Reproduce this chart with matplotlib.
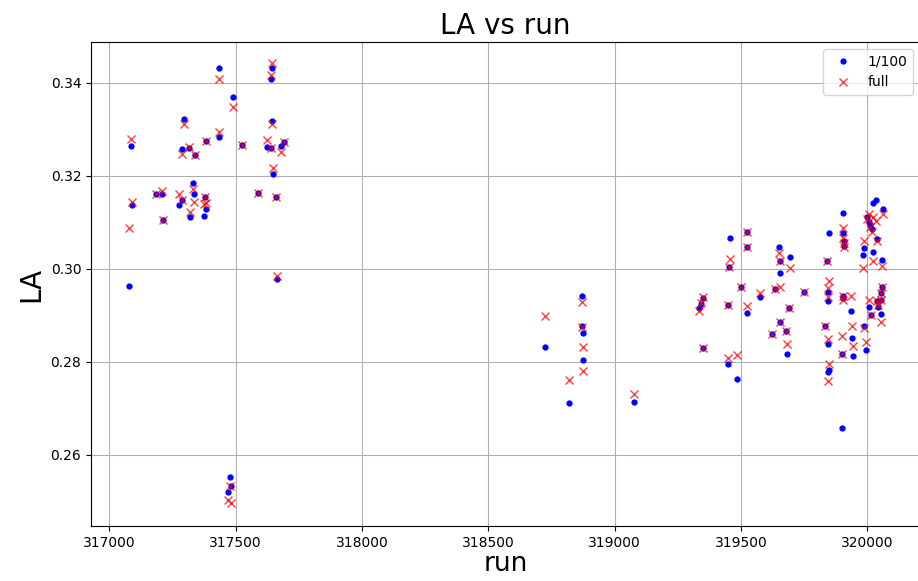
import numpy as np
import matplotlib
matplotlib.use("Agg")
import matplotlib.pyplot as plt

# run numbers, LA from the 1/100 sample and LA from the full sample
runs = [
    # 2017 block
    317076, 317085, 317090, 317183, 317208, 317212, 317274, 317288, 317286,
    317294, 317315, 317317, 317330, 317335, 317340, 317384, 317378, 317381,
    317376, 317435, 317432, 317490, 317476, 317482, 317470, 317523, 317589,
    317624, 317643, 317638, 317645, 317639, 317646, 317658, 317662, 317690,
    317678,
    # middle block
    318726, 318821, 318870, 318872, 318873, 318874, 319075,
    # 2018 block
    319335, 319343, 319348, 319349, 319447, 319448, 319454, 319458, 319483,
    319500, 319523, 319524, 319525, 319576, 319635, 319652, 319653, 319654,
    319655, 319622, 319678, 319681, 319691, 319694, 319749,
    319840, 319843, 319846, 319848, 319831, 319845, 319847, 319844,
    319905, 319906, 319907, 319908, 319903, 319904, 319902, 319937, 319940,
    319900, 319945,
    320024, 320033, 320063, 320006, 320000, 320010, 320020, 319987, 320037,
    320021, 320057, 319984, 320058, 320055, 320007, 320040, 320053, 320042,
    320056, 320016, 319988, 319997,
]

la_100 = [
    0.2963, 0.3264, 0.3137, 0.3161, 0.3161, 0.3105, 0.3137, 0.3148, 0.3257,
    0.3322, 0.3260, 0.3112, 0.3184, 0.3162, 0.3245, 0.3276, 0.3155, 0.3128,
    0.3114, 0.3432, 0.3284, 0.3370, 0.2552, 0.2533, 0.2520, 0.3266, 0.3163,
    0.3263, 0.3432, 0.3408, 0.3319, 0.3259, 0.3204, 0.3155, 0.2978, 0.3272,
    0.3264,
    0.2831, 0.2711, 0.2941, 0.2878, 0.2862, 0.2803, 0.2713,
    0.2915, 0.2925, 0.2937, 0.2829, 0.2922, 0.2796, 0.3005, 0.3067, 0.2763,
    0.2961, 0.3080, 0.3047, 0.2906, 0.2939, 0.2957, 0.3048, 0.3017, 0.2991,
    0.2886, 0.2860, 0.2867, 0.2818, 0.2915, 0.3025, 0.2951,
    0.3016, 0.2951, 0.2930, 0.3077, 0.2877, 0.2839, 0.2783, 0.2778,
    0.3121, 0.3077, 0.3060, 0.3050, 0.2941, 0.2937, 0.2657, 0.2910, 0.2852,
    0.2818, 0.2812,
    0.3142, 0.3148, 0.3129, 0.3101, 0.3112, 0.3095, 0.3085, 0.3045, 0.3064,
    0.3037, 0.3019, 0.3029, 0.2962, 0.2948, 0.2917, 0.2930, 0.2933, 0.2919,
    0.2904, 0.2900, 0.2878, 0.2826,
]

la_full = [
    0.3088, 0.3279, 0.3143, 0.3161, 0.3168, 0.3105, 0.3162, 0.3148, 0.3248,
    0.3312, 0.3263, 0.3123, 0.3171, 0.3144, 0.3245, 0.3276, 0.3155, 0.3141,
    0.3139, 0.3408, 0.3294, 0.3349, 0.2533, 0.2497, 0.2503, 0.3266, 0.3163,
    0.3277, 0.3442, 0.3417, 0.3312, 0.3259, 0.3217, 0.3155, 0.2984, 0.3272,
    0.3251,
    0.2899, 0.2761, 0.2928, 0.2874, 0.2831, 0.2781, 0.2731,
    0.2909, 0.2926, 0.2940, 0.2829, 0.2922, 0.2808, 0.3005, 0.3022, 0.2815,
    0.2961, 0.3080, 0.3047, 0.2920, 0.2948, 0.2957, 0.3034, 0.3017, 0.2962,
    0.2886, 0.2860, 0.2867, 0.2838, 0.2915, 0.3002, 0.2951,
    0.3016, 0.2959, 0.2940, 0.2973, 0.2877, 0.2850, 0.2796, 0.2758,
    0.3088, 0.3066, 0.3055, 0.3047, 0.2941, 0.2934, 0.2856, 0.2941, 0.2878,
    0.2818, 0.2835,
    0.3111, 0.3104, 0.3118, 0.3118, 0.3107, 0.3091, 0.3080, 0.3059, 0.3059,
    0.3017, 0.3006, 0.3002, 0.2962, 0.2948, 0.2933, 0.2930, 0.2933, 0.2922,
    0.2886, 0.2900, 0.2873, 0.2843,
]

fig = plt.figure(figsize=(9.18, 5.81), dpi=100)
ax = fig.add_axes([91 / 918, 55 / 581, 829 / 918, 484 / 581])

ax.plot(runs, la_100, 'b.', markersize=7, label='1/100')
ax.plot(runs, la_full, 'rx', markersize=6, markeredgewidth=1, alpha=0.75, label='full')

ax.set_xlim(316927, 320209)
ax.set_ylim(0.2447, 0.3488)
ax.set_xticks(np.arange(317000, 320001, 500))
ax.set_yticks([0.26, 0.28, 0.30, 0.32, 0.34])

ax.set_title('LA vs run', fontsize=20)
ax.set_xlabel('run', fontsize=19, labelpad=1)
ax.set_ylabel('LA', fontsize=20)
ax.grid(True)
ax.legend(loc='upper right', fontsize=10)

fig.savefig('out.png', dpi=100)
